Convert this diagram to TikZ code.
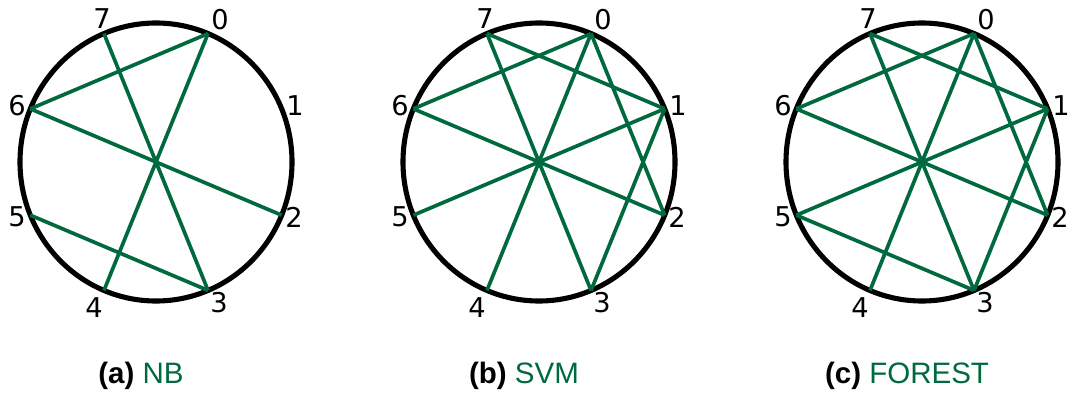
\documentclass[tikz,border=0pt]{standalone}
\usepackage{fontspec}
\setmainfont{Liberation Sans}
\newfontfamily\digitfont{DejaVu Sans}
\usetikzlibrary{calc}
\definecolor{edgegreen}{RGB}{0,106,62}

\begin{document}
\begin{tikzpicture}[x=0.02cm, y=0.02cm,
    ring/.style={line width=2.9pt, black},
    chord/.style={line width=2.1pt, edgegreen},
    vlabel/.style={font=\digitfont\fontsize{15.5}{18}\selectfont, inner sep=0pt},
    caption/.style={font=\fontsize{16.8}{19}\selectfont, inner sep=0pt}]
  \useasboundingbox (0,0) rectangle (1071,393);
  \foreach \p/\cx/\name/\edges in {
      a/156/NB/{0/6,0/4,7/3,6/2,5/3},
      b/539/SVM/{0/6,0/4,0/2,7/1,7/3,6/2,5/1,1/3},
      c/922/FOREST/{0/6,0/4,0/2,7/1,7/3,6/2,5/1,1/3,5/3}}{
    \coordinate (\p c) at (\cx,231);
    \draw[ring] (\p c) ellipse [x radius=136, y radius=139];
    % points on the ring, 0 at top right, clockwise
    \foreach \i in {0,...,7}
      \coordinate (\p\i) at ($(\p c)+({67.5-45*\i}:136 and 139)$);
    \foreach \i/\dx/\dy in {0/64/142, 1/139/56, 2/138/-55, 3/63/-141,
                            4/-62/-146, 5/-139/-55, 6/-139/56, 7/-54/143}
      \node[vlabel] (\p l\i) at ($(\p c)+(\dx,\dy)$) {\i};
    \foreach \u/\v in \edges
      \draw[chord] (\p\u) -- (\p\v);
    \node[caption] (\p cap) at ($(\p c)+(-15,-214)$)
      {\textbf{(\p)} \textcolor{edgegreen}{\name}};
  }
\end{tikzpicture}
\end{document}
